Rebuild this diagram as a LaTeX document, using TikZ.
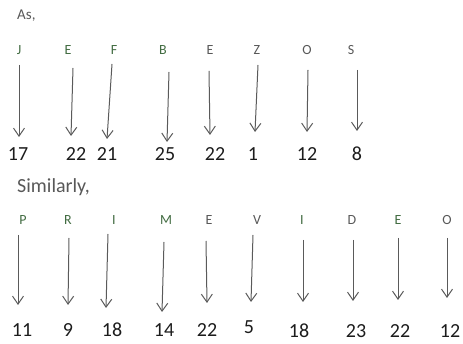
\documentclass[tikz,border=0pt]{standalone}
\usepackage{fontspec}
\setmainfont{Carlito}
\usepackage{xcolor}
\usepackage{tikz}
\usetikzlibrary{arrows.meta}
\definecolor{lgreen}{RGB}{66,108,66}
\definecolor{lgray}{RGB}{88,88,88}
\definecolor{numcol}{RGB}{28,28,28}
\definecolor{arrcol}{RGB}{90,90,90}

\begin{document}
\begin{tikzpicture}[x=1pt,y=-1pt,>={Straight Barb[length=8pt,width=11pt]},
   ltr/.style={inner sep=0pt,font=\fontsize{14}{16}\selectfont},
   gl/.style={ltr,text=lgreen}, yl/.style={ltr,text=lgray},
   num/.style={inner sep=0pt,text=numcol,font=\fontsize{20}{22}\selectfont},
   arr/.style={->,draw=arrcol,line width=1pt}]
  \useasboundingbox (0,0) rectangle (463,344);
  \node[anchor=base west,inner sep=0pt,text=lgray,font=\fontsize{15}{17}\selectfont] (as) at (17,20) {As,};
  % first word
  \node[gl] (t1) at (19,50) {J};   \coordinate (t1a) at (19,65);  \coordinate (t1b) at (19,137); \node[num] (u1) at (18,154) {17};
  \node[gl] (t2) at (68,50) {E};   \coordinate (t2a) at (73,68);  \coordinate (t2b) at (71,136); \node[num] (u2) at (76,154) {22};
  \node[gl] (t3) at (114,50) {F};  \coordinate (t3a) at (112,64); \coordinate (t3b) at (107,139); \node[num] (u3) at (107,154) {21};
  \node[gl] (t4) at (163,50) {B};  \coordinate (t4a) at (169,72); \coordinate (t4b) at (167,142); \node[num] (u4) at (165,154) {25};
  \node[yl] (t5) at (210,50) {E};  \coordinate (t5a) at (209,71); \coordinate (t5b) at (210,135); \node[num] (u5) at (215,154) {22};
  \node[yl] (t6) at (257,50) {Z};  \coordinate (t6a) at (258,65); \coordinate (t6b) at (255,132); \node[num] (u6) at (253,154) {1};
  \node[yl] (t7) at (307,50) {O};  \coordinate (t7a) at (308,70); \coordinate (t7b) at (307,132); \node[num] (u7) at (307,154) {12};
  \node[yl] (t8) at (351,50) {S};  \coordinate (t8a) at (357,70); \coordinate (t8b) at (357,131); \node[num] (u8) at (357,154) {8};
  \draw[arr] (t1a)--(t1b); \draw[arr] (t2a)--(t2b); \draw[arr] (t3a)--(t3b); \draw[arr] (t4a)--(t4b);
  \draw[arr] (t5a)--(t5b); \draw[arr] (t6a)--(t6b); \draw[arr] (t7a)--(t7b); \draw[arr] (t8a)--(t8b);
  \node[anchor=base west,inner sep=0pt,text=lgray,font=\fontsize{20}{22}\selectfont] (sim) at (17,193) {Similarly,};
  % second word
  \node[gl] (s1) at (23,220) {P};   \coordinate (s1a) at (18,235);  \coordinate (s1b) at (18,305);  \node[num] (v1) at (22,330) {11};
  \node[gl] (s2) at (68,220) {R};   \coordinate (s2a) at (69,238);  \coordinate (s2b) at (68,305);  \node[num] (v2) at (68,330) {9};
  \node[gl] (s3) at (114,220) {I};  \coordinate (s3a) at (108,234); \coordinate (s3b) at (106,308); \node[num] (v3) at (112,330) {18};
  \node[gl] (s4) at (166,220) {M};  \coordinate (s4a) at (164,242); \coordinate (s4b) at (162,312); \node[num] (v4) at (164,330) {14};
  \node[yl] (s5) at (209,220) {E};  \coordinate (s5a) at (206,241); \coordinate (s5b) at (207,303); \node[num] (v5) at (207,330) {22};
  \node[yl] (s6) at (257,220) {V};  \coordinate (s6a) at (253,235); \coordinate (s6b) at (251,302); \node[num] (v6) at (249,327) {5};
  \node[gl] (s7) at (302,220) {I};  \coordinate (s7a) at (303,240); \coordinate (s7b) at (303,302); \node[num] (v7) at (299,331) {18};
  \node[yl] (s8) at (352,220) {D};  \coordinate (s8a) at (353,240); \coordinate (s8b) at (353,301); \node[num] (v8) at (356,331) {23};
  \node[gl] (s9) at (398,220) {E};  \coordinate (s9a) at (398,238); \coordinate (s9b) at (398,300); \node[num] (v9) at (400,331) {22};
  \node[yl] (s10) at (447,220) {O}; \coordinate (s10a) at (447,238); \coordinate (s10b) at (447,298); \node[num] (v10) at (450,331) {12};
  \draw[arr] (s1a)--(s1b); \draw[arr] (s2a)--(s2b); \draw[arr] (s3a)--(s3b); \draw[arr] (s4a)--(s4b); \draw[arr] (s5a)--(s5b);
  \draw[arr] (s6a)--(s6b); \draw[arr] (s7a)--(s7b); \draw[arr] (s8a)--(s8b); \draw[arr] (s9a)--(s9b); \draw[arr] (s10a)--(s10b);
\end{tikzpicture}
\end{document}
